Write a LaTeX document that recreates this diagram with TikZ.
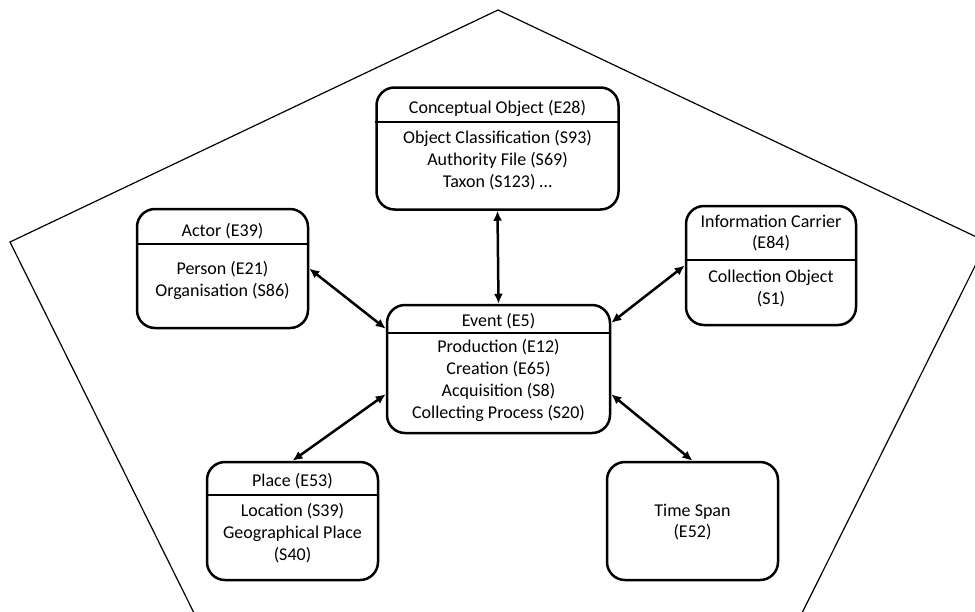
\documentclass[tikz,border=0pt]{standalone}
\usepackage{fontspec}
\setmainfont{Carlito}
\usetikzlibrary{arrows.meta}

\begin{document}
\begin{tikzpicture}
[x=1pt,y=-1pt,%
  classBox/.style={draw,line width=2.5pt,rounded corners=18pt,inner sep=0pt},%
  classText/.style={inner sep=0pt,align=center},%
  divider/.style={line width=2.5pt},%
  linkDecorate/.style={{Latex[length=10pt,width=9pt]}-{Latex[length=10pt,width=9pt]},line width=2.5pt}]
\fontsize{18}{21.7}\selectfont
\useasboundingbox (0,0) rectangle (975,611);
\begin{scope}
\clip (0,0) rectangle (975,611);
\draw[line width=1.2pt] (498,10) -- (987,242) -- (800,617) -- (196,617) -- (10,242) -- cycle;
\end{scope}

% class boxes
\foreach \boxName/\cx/\cy/\w/\h in {
  concept/497.5/148.5/242/122, actor/222.5/268.5/171/119,
  event/498.5/369/223/128, carrier/771/265.5/170/119,
  place/292.5/521/171/118, timespan/692.5/521/171/118}
{
  \node[classBox,minimum width=\w pt,minimum height=\h pt] (\boxName) at (\cx,\cy) {};
}
\foreach \boxName/\dy in {concept/122, actor/244, event/333, carrier/260, place/495}
{
  \draw[divider] (\boxName.west |- 0,\dy) -- (\boxName.east |- 0,\dy);
}

% texts
\node[classText] (conceptTitle) at (497.5,108) {Conceptual Object (E28)};
\node[classText] (conceptBody) at (497.5,160) {Object Classification (S93)\\Authority File (S69)\\Taxon (S123) \dots};
\node[classText] (actorTitle) at (222.5,231) {Actor (E39)};
\node[classText] (actorBody) at (222.5,280.5) {Person (E21)\\Organisation (S86)};
\node[classText] (eventTitle) at (498.5,321) {Event (E5)};
\node[classText] (eventBody) at (498.5,380.5) {Production (E12)\\Creation (E65)\\Acquisition (S8)\\Collecting Process (S20)};
\node[classText] (carrierTitle) at (771,233) {Information Carrier\\(E84)};
\node[classText] (carrierBody) at (771,288.5) {Collection Object\\(S1)};
\node[classText] (placeTitle) at (292.5,481) {Place (E53)};
\node[classText] (placeBody) at (292.5,533) {Location (S39)\\Geographical Place\\(S40)};
\node[classText] (timespanBody) at (692.5,522) {Time Span\\(E52)};

% links
\coordinate (eventNW) at ([yshift=-25pt]event.north west);
\coordinate (eventNE) at ([yshift=-19pt]event.north east);
\coordinate (eventSW) at ([yshift=40pt]event.south west);
\coordinate (eventSE) at ([yshift=40pt]event.south east);
\path
\foreach \startNode/\endNode in {
  concept.south/event.north, actor.east/eventNW, carrier.west/eventNE,
  eventSW/place.north, eventSE/timespan.north}
{
  (\startNode) edge[linkDecorate] (\endNode)
};
\end{tikzpicture}
\end{document}
